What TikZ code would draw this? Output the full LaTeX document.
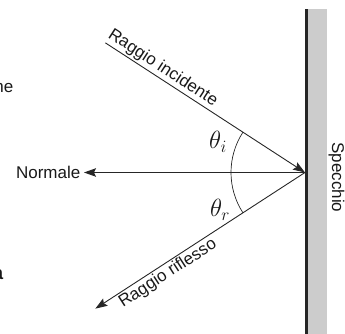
\documentclass[tikz,border=0pt]{standalone}
\usepackage{fontspec}
\setmainfont{Liberation Sans}
\usepackage{amsmath}
\usetikzlibrary{calc, positioning, arrows.meta}

\begin{document}
\begin{tikzpicture}[
        x=1pt, y=1pt,
        ray/.style={draw=black!85, line width=0.9pt,
            -{Stealth[length=12pt, width=8.5pt, inset=2pt]}},
        lbl/.style={font=\fontsize{17}{19}\selectfont, text=black!90, inner sep=2pt},
        ang/.style={font=\fontsize{24}{26}\selectfont, text=black!90, inner sep=0pt},
        mirror/.style={fill=black!20, draw=none}
    ]
    \useasboundingbox (0,0) rectangle (345,334);
    \coordinate (hit) at (305,161.5);
    \coordinate (src) at ($(hit)+(147:238)$);
    \coordinate (dst) at ($(hit)+(213:250)$);

    % mirror
    \fill [mirror] (307.5,0) rectangle (326.7,325);
    \draw [black!85, line width=2.6pt] (306.3,0) -- (306.3,325);
    \node [lbl, rotate=-90] (spec) at (336.5,156.5) {Specchio};

    \node [lbl, anchor=east, inner sep=3.5pt] (normale) at (84,161.5) {Normale};
    \draw [ray] (hit) -- (normale);
    \draw [ray] (src) -- (hit);
    \draw [ray] (hit) -- (dst);
    \path (src) -- node[lbl, sloped, above, pos=0.26] (inc) {Raggio incidente} (hit);
    \path (dst) -- node[lbl, sloped, below, pos=0.32] (rif) {Raggio riflesso} (hit);

    % angles
    \draw [black!85, line width=0.7pt] ($(hit)+(147:74)$) arc[start angle=147, end angle=213, radius=74];
    \node [ang] (thi) at (218,192) {$\theta_i$};
    \node [ang] (thr) at (220,124) {$\theta_r$};

    % cut text at the left edge
    \node [lbl, anchor=base east, inner sep=0pt] (frag1) at (13.5,241) {ne};
    \node [lbl, font=\fontsize{19}{20}\selectfont\bfseries, anchor=base east, inner sep=0pt] (frag2) at (3.5,54) {a};
\end{tikzpicture}
\end{document}
